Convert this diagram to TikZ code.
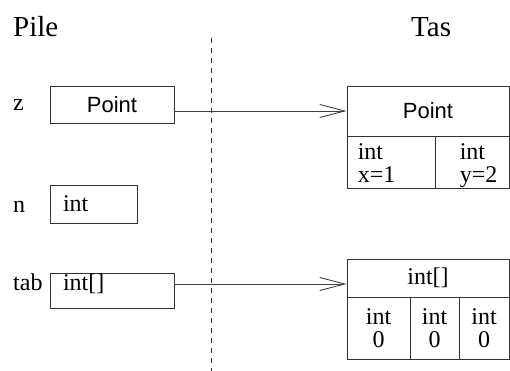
\documentclass[tikz,border=0pt]{standalone}
\usepackage{fontspec}
\setmainfont{Liberation Serif}
\newfontfamily\ptfont{Liberation Sans}
\usetikzlibrary{arrows.meta,positioning}

\begin{document}
\begin{tikzpicture}[
  x=1pt, y=-1pt,
  every node/.style={inner sep=0pt},
  txt/.style={font=\fontsize{24}{23}\selectfont},
  head/.style={font=\fontsize{29}{30}\selectfont},
  cls/.style={font=\ptfont\fontsize{22}{24}\selectfont},
  box/.style={draw=black!80, line width=0.9pt, rectangle},
  % stack slots: type name written from the left edge
  slot/.style={box, txt, align=left, inner xsep=13pt},
  % heap cells, two lines each
  cell/.style={box, txt, align=center, minimum height=62pt},
  ref/.style={draw=black!75, line width=0.9pt,
    -{Straight Barb[length=25pt, width=13pt, line width=0.9pt]}},
  sep/.style={draw=black!80, line width=0.8pt, dash pattern=on 5pt off 5pt}]

  \useasboundingbox (0,0) rectangle (510,371);

  % titles
  \node[head, anchor=base west] (pile) at (13,37)  {Pile};
  \node[head, anchor=base west] (tas)  at (411,37) {Tas};

  % stack / heap separation
  \coordinate (septop) at (211,38);
  \coordinate (sepbot) at (211,371);
  \draw[sep] (septop) -- (sepbot);

  % stack variables
  \node[txt, anchor=base west] (zname)   at (13,111) {z};
  \node[txt, anchor=base west] (nname)   at (13,212) {n};
  \node[txt, anchor=base west] (tabname) at (13,290) {tab};

  \node[box, cls, minimum width=124pt, minimum height=37pt] (zbox) at (112,104.5) {Point};
  \node[slot, text width=61pt, minimum height=38pt] (nbox) at (93.5,204) {int};
  \node[slot, text width=98pt, minimum height=35pt,
        text height=16pt, text depth=17pt] (tabbox) at (112,290.5) {int[]};

  % heap: Point object
  \node[box, cls, minimum width=162pt, minimum height=50pt] (phead) at (428,111) {Point};
  \node[box, minimum width=88pt, minimum height=52pt] (pfx) at (391,162) {};
  \node[box, minimum width=74pt, minimum height=52pt] (pfy) at (472,162) {};
  \node[txt, align=left, anchor=north west] (fxval) at ([shift={(11,8)}]pfx.north west) {int\\x=1};
  \node[txt, align=left, anchor=north west] (fyval) at ([shift={(25,8)}]pfy.north west) {int\\y=2};

  % heap: int array
  \node[box, txt, minimum width=162pt, minimum height=38pt] (ahead) at (428,278) {int[]};
  \node[cell, minimum width=63pt] (a0) at (378.5,328) {int\\0};
  \node[cell, minimum width=49pt] (a1) at (434.5,328) {int\\0};
  \node[cell, minimum width=50pt] (a2) at (484,328)   {int\\0};

  % references
  \coordinate (zout)   at ([yshift=-6.5pt]zbox.east);
  \coordinate (tabout) at ([yshift=6.5pt]tabbox.east);
  \draw[ref] (zout)   -- (zout -| phead.west);
  \draw[ref] (tabout) -- (tabout -| ahead.west);
\end{tikzpicture}
\end{document}
